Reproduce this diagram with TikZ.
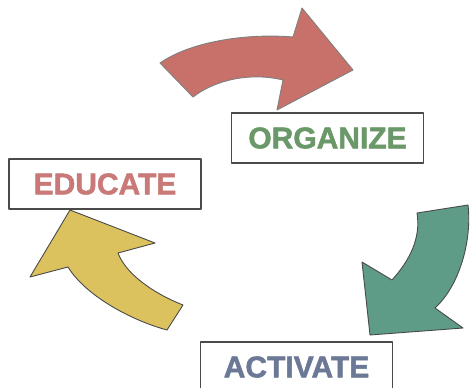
\documentclass[tikz,border=0pt]{standalone}
\usepackage{fontspec}
\setmainfont{Liberation Sans}[BoldFeatures={FakeBold=1.6}]
\usepackage{xcolor}
\usepackage{tikz}
\usetikzlibrary{positioning}
\definecolor{redarrow}{HTML}{C7716A}
\definecolor{tealarrow}{HTML}{5E9C88}
\definecolor{yellowarrow}{HTML}{DCC25E}
\definecolor{greentext}{HTML}{6A9868}
\definecolor{redtext}{HTML}{C97A78}
\definecolor{bluetext}{HTML}{6B7896}
\definecolor{edgegray}{HTML}{4A4A4A}
\tikzset{
    every picture/.style={line cap=round,line join=round},
    stagebox/.style={draw=edgegray,fill=white,line width=1.2pt,
      minimum width=192pt,minimum height=50pt,inner sep=0pt,
      font=\fontsize{30}{30}\selectfont\bfseries,align=center},
    blockarrow/.style={draw=edgegray,line width=0.9pt}
}
\begin{document}
\begin{tikzpicture}[x=1pt,y=-1pt]
  \useasboundingbox[fill=white] (0,0) rectangle (471,388);
  % curved block arrows
  \filldraw[blockarrow,fill=redarrow,draw=gray] (160,63)
    .. controls (190,42) and (245,33) .. (293,37)
    -- (302,8) -- (353,70) -- (277,110) -- (283,80)
    .. controls (250,72) and (215,80) .. (193,97) -- cycle;
  \filldraw[blockarrow,fill=tealarrow] (417,213) -- (468,205)
    .. controls (472,240) and (460,285) .. (435,308)
    -- (463,328) -- (370,335) -- (362,262) -- (392,280)
    .. controls (410,260) and (421,238) .. (417,213);
  \filldraw[blockarrow,fill=yellowarrow] (70,210) -- (155,243) -- (118,253)
    .. controls (125,272) and (150,292) .. (183,305)
    -- (167,330)
    .. controls (130,320) and (85,295) .. (68,267)
    -- (30,277) -- cycle;
  % stage boxes
  \node[stagebox,text=greentext] (organize) at (327.5,138) {ORGANIZE};
  \node[stagebox,text=redtext] (educate) at (105,184) {EDUCATE};
  \node[stagebox,text=bluetext] (activate) at (296.5,367) {ACTIVATE};
\end{tikzpicture}
\end{document}
